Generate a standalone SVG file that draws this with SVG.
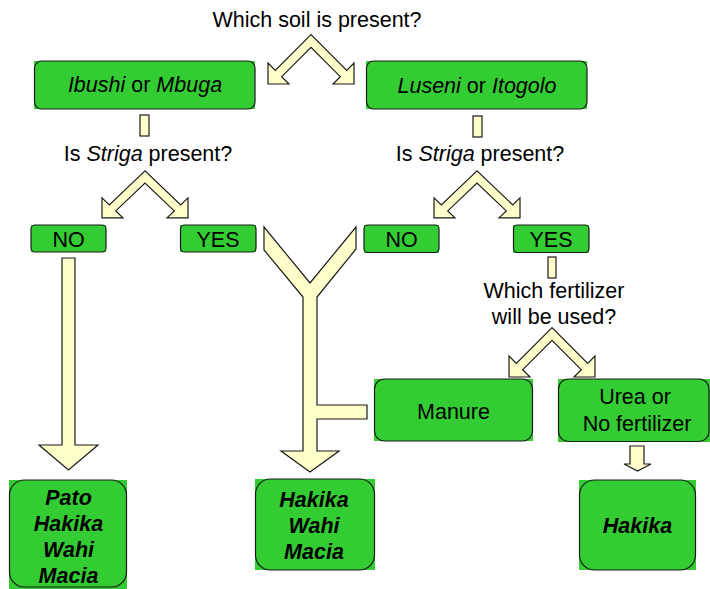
<svg xmlns="http://www.w3.org/2000/svg" xmlns:xlink="http://www.w3.org/1999/xlink" width="710" height="589" viewBox="0 0 710 589">
<style>
text{font-family:"Liberation Sans",Arial,sans-serif;font-size:21.5px;fill:#000;text-anchor:middle}
.it{font-style:italic}
.bi{font-style:italic;font-weight:bold}
.bg{fill:#33cc33}
.bx{fill:#33cc33;stroke:#1a1a1a;stroke-width:1.2}
.ar{fill:#ffffcc;stroke:#1a1a1a;stroke-width:1.2;stroke-linejoin:miter}
</style>
<defs>
<polygon id="chev" points="0,-6.4 -35.7,29.3 -43,22 -43,43 -22,43 -29.3,35.7 0,6.4 29.3,35.7 22,43 43,43 43,22 35.7,29.3"/>
</defs>
<rect width="710" height="589" fill="#fff"/>
<g id="connectors">
<use xlink:href="#chev" class="ar" transform="translate(311,41)"/>
<rect class="ar" x="140" y="115" width="9" height="21"/>
<rect class="ar" x="473" y="116" width="9" height="21"/>
<use xlink:href="#chev" class="ar" transform="translate(145,177) scale(1,0.95)"/>
<use xlink:href="#chev" class="ar" transform="translate(477,177) scale(1,0.95)"/>
<polygon class="ar" points="62,258 75,258 75,445 98,445 68.5,470 39,445 62,445"/>
<polygon class="ar" points="264,227 264,250 303,297 303,451 281,451 310,472 339,451 317,451 317,419 367,419 367,405 317,405 317,297 356,249 356,227 310,283"/>
<rect class="ar" x="548" y="257" width="8" height="21"/>
<use xlink:href="#chev" class="ar" transform="translate(552,334)"/>
<polygon class="ar" points="630,446 644,446 644,464 651,464 637.5,471 624,464 630,464"/>
</g>
<text x="317" y="27">Which soil is present?</text>
<g id="n-ibushi">
<rect class="bg" x="34" y="61" width="221" height="48"/>
<rect class="bx" x="34.5" y="61" width="220.5" height="48" rx="7"/>
<text x="145" y="92"><tspan class="it">Ibushi</tspan> or <tspan class="it">Mbuga</tspan></text>
</g>
<g id="n-luseni">
<rect class="bg" x="366" y="61" width="221" height="48"/>
<rect class="bx" x="366.5" y="61" width="220.5" height="48" rx="7"/>
<text x="477" y="92.5"><tspan class="it">Luseni</tspan> or <tspan class="it">Itogolo</tspan></text>
</g>
<g id="q-striga-left"><text x="148" y="160.5">Is <tspan class="it">Striga</tspan> present?</text></g>
<g id="q-striga-right"><text x="480" y="160.5">Is <tspan class="it">Striga</tspan> present?</text></g>
<g id="n-no-left">
<rect class="bg" x="31" y="225" width="75" height="27"/>
<rect class="bx" x="31" y="225" width="75" height="27" rx="4"/>
<text x="68.5" y="246.5">NO</text>
</g>
<g id="n-yes-left">
<rect class="bg" x="180" y="225" width="76" height="27"/>
<rect class="bx" x="180.5" y="225" width="75.5" height="27" rx="4"/>
<text x="218" y="246.5">YES</text>
</g>
<g id="n-no-right">
<rect class="bg" x="364" y="225" width="75" height="28"/>
<rect class="bx" x="364" y="225" width="75" height="27.5" rx="4"/>
<text x="401.5" y="246.5">NO</text>
</g>
<g id="n-yes-right">
<rect class="bg" x="513" y="225" width="76" height="28"/>
<rect class="bx" x="513.5" y="225" width="75.5" height="27.5" rx="4"/>
<text x="551" y="246.5">YES</text>
</g>
<g id="q-fertilizer">
<text x="554" y="297.5">Which fertilizer</text>
<text x="554" y="324">will be used?</text>
</g>
<g id="n-manure">
<rect class="bg" x="374" y="379" width="159" height="62"/>
<rect class="bx" x="374.5" y="379" width="158" height="62" rx="10"/>
<text x="453.5" y="418.5">Manure</text>
</g>
<g id="n-urea">
<rect class="bg" x="558" y="379" width="152" height="63"/>
<rect class="bx" x="558.5" y="379" width="150.5" height="62.5" rx="10"/>
<text x="635" y="404">Urea or</text>
<text x="637" y="430.5">No fertilizer</text>
</g>
<g id="n-pato">
<rect class="bg" x="9" y="480" width="118" height="109"/>
<rect class="bx" x="9.5" y="480" width="117" height="107" rx="15"/>
<text class="bi" x="68.5" y="505">Pato</text>
<text class="bi" x="68.5" y="531">Hakika</text>
<text class="bi" x="68.5" y="556.7">Wahi</text>
<text class="bi" x="68.5" y="582.7">Macia</text>
</g>
<g id="n-hakika-wahi">
<rect class="bg" x="255" y="479" width="120" height="91"/>
<rect class="bx" x="255.5" y="479" width="119" height="91" rx="15"/>
<text class="bi" x="314" y="506.7">Hakika</text>
<text class="bi" x="314" y="532.7">Wahi</text>
<text class="bi" x="314" y="559.3">Macia</text>
</g>
<g id="n-hakika">
<rect class="bg" x="579" y="480" width="117" height="90"/>
<rect class="bx" x="579.5" y="480" width="116" height="90" rx="15"/>
<text class="bi" x="637.5" y="532.7">Hakika</text>
</g>
</svg>
